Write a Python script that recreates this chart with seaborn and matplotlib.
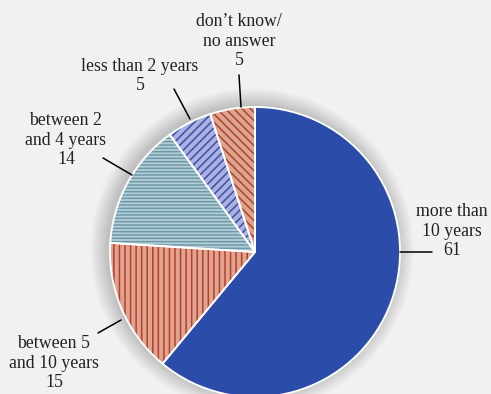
import matplotlib
matplotlib.use("Agg")
import matplotlib.pyplot as plt
import seaborn as sns
from matplotlib.patches import Circle

categories = ["more than\n10 years", "between 5\nand 10 years", "between 2\nand 4 years",
              "less than 2 years", "don\u2019t know/\nno answer"]
values = [61, 15, 14, 5, 5]
face_colors = ["#2b4ca8", "#dba690", "#b7cdd5", "#a9b1e2", "#dba690"]
hatch_colors = ["#2b4ca8", "#c0392b", "#6b9bab", "#3f4f9f", "#b5402e"]
hatches = [None, "|||", "-----", "////", "\\\\\\\\"]

sns.set_theme(style="white")
plt.rcParams["font.family"] = ["Liberation Serif", "DejaVu Serif"]
plt.rcParams["hatch.linewidth"] = 1.1

W, H = 491, 394
fig = plt.figure(figsize=(W / 100, H / 100), dpi=100, facecolor="#f1f1f1")
ax = fig.add_axes([0, 0, 1, 1])
ax.set_facecolor("#f1f1f1")

cx, cy, r = 255, 394 - 252, 145

# soft shadow
for k in range(24, 0, -1):
    ax.add_patch(Circle((cx - 3, cy + 2), r + k * 0.7, facecolor="black",
                        edgecolor="none", alpha=0.009, zorder=0))

wedges, _ = ax.pie(values, startangle=90, counterclock=False, center=(cx, cy),
                   radius=r, colors=face_colors,
                   wedgeprops=dict(linewidth=0))
for w, h, hc in zip(wedges, hatches, hatch_colors):
    w.set_edgecolor(hc)
    w.set_linewidth(0)
    if h:
        w.set_hatch(h)
    w.set_zorder(2)

outline, _ = ax.pie(values, startangle=90, counterclock=False, center=(cx, cy),
                    radius=r, colors=["none"] * len(values),
                    wedgeprops=dict(linewidth=1.3, edgecolor="white", facecolor="none"))
for w in outline:
    w.set_zorder(3)

labels = [f"{c}\n{v}" for c, v in zip(categories, values)]
label_pos = [(452, 231), (54, 363), (66, 140), (140, 76), (239, 41)]
leaders = [((400, 252), (432, 252)),
           ((121, 320), (98, 333)),
           ((132, 175), (103, 158)),
           ((190, 119), (174, 89)),
           ((241, 107), (239, 75))]

for lab, (x, y) in zip(labels, label_pos):
    ax.text(x, H - y, lab, ha="center", va="center", fontsize=12.8,
            color="#222222", linespacing=1.2, zorder=5)
for (p0, p1) in leaders:
    ax.plot([p0[0], p1[0]], [H - p0[1], H - p1[1]], color="black", lw=1.1, zorder=4)

ax.set_xlim(0, W)
ax.set_ylim(0, H)
ax.set_aspect("equal")
ax.axis("off")

fig.savefig("out.png", dpi=100, facecolor="#f1f1f1")
